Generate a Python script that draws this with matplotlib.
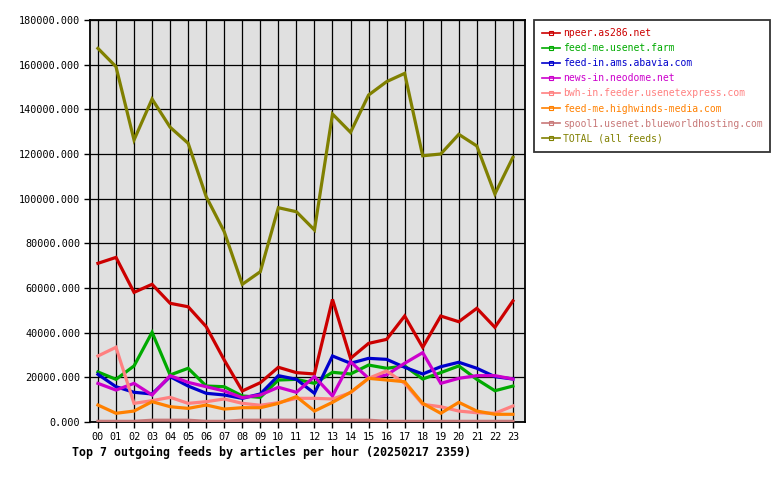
import matplotlib
matplotlib.use("Agg")
import matplotlib.pyplot as plt
from matplotlib.lines import Line2D
from matplotlib.ticker import FuncFormatter, MultipleLocator

hours = ["%02d" % h for h in range(24)]

npeer = [71050, 73700, 58050, 61650, 53150, 51600, 42700, 27750, 13900, 17600, 24500, 22100,
         21500, 54900, 28500, 35200, 37000, 47450, 33450, 47450, 44900, 50900, 42400, 54200]
usenet_farm = [22400, 19100, 25100, 40150, 21050, 24050, 16100, 15800, 11650, 11050, 18800, 19100,
               17300, 22250, 21500, 25500, 24050, 25100, 19250, 22100, 25100, 19100, 14000, 16100]
abavia = [21350, 15800, 13300, 12550, 20300, 16100, 12850, 12100, 10600, 12550, 20750, 19100,
          12850, 29550, 26300, 28500, 28050, 24500, 21500, 24750, 26750, 24050, 20300, 19250]
neodome = [17300, 14300, 17300, 12100, 20750, 17750, 15800, 13900, 10900, 12100, 15550, 13300,
           20300, 11650, 27000, 19550, 21050, 26300, 31050, 17300, 19550, 20750, 20750, 19250]
usenetexpress = [29550, 33450, 8350, 9550, 11050, 8350, 9100, 10300, 8350, 7500, 8650, 10600,
                 10600, 10300, 13100, 19550, 22850, 17300, 7900, 6850, 4900, 4150, 3900, 7150]
highwinds = [7600, 3900, 4900, 9100, 6850, 6100, 7600, 5800, 6400, 6400, 8350, 11350,
             4900, 8800, 13300, 19550, 18800, 18050, 8350, 3900, 8800, 4900, 3450, 3450]
blueworld = [300, 300, 300, 800, 800, 800, 300, 300, 800, 800, 800, 800,
             800, 800, 800, 800, 300, 300, 300, 300, 300, 300, 300, 300]
total = [167300, 159100, 126300, 144600, 132000, 124800, 100900, 85200, 61650, 67300, 95950, 94150,
         86000, 137900, 129700, 146400, 152400, 156100, 119200, 120000, 128800, 123600, 102100, 118500]

names = ["npeer.as286.net", "feed-me.usenet.farm", "feed-in.ams.abavia.com", "news-in.neodome.net",
         "bwh-in.feeder.usenetexpress.com", "feed-me.highwinds-media.com",
         "spool1.usenet.blueworldhosting.com", "TOTAL (all feeds)"]
series = [npeer, usenet_farm, abavia, neodome, usenetexpress, highwinds, blueworld, total]
colors = ["#cc0000", "#00aa00", "#0000cc", "#cc00cc", "#ff8080", "#ff8000", "#c87878", "#808000"]

title = "Top 7 outgoing feeds by articles per hour (20250217 2359)"

mono = ["DejaVu Sans Mono"]
W, H = 780, 480
fig = plt.figure(figsize=(7.8, 4.8), dpi=100)
ax = fig.add_axes([90 / W, (H - 422) / H, 435 / W, 402 / H])
ax.set_facecolor("#e0e0e0")

x = list(range(len(hours)))
for s, c in zip(series, colors):
    ax.plot(x, s, color=c, lw=2.3, solid_joinstyle="miter", zorder=3)

ax.set_xlim(-0.44, 23.67)
ax.set_ylim(0, 180000)
ax.set_xticks(x)
ax.set_xticklabels(hours, family=mono, fontsize=7.3)
ax.yaxis.set_major_locator(MultipleLocator(20000))
ax.yaxis.set_major_formatter(FuncFormatter(lambda v, p: "%.3f" % v))
for lbl in ax.get_yticklabels():
    lbl.set_family(mono)
    lbl.set_fontsize(7.3)
ax.tick_params(axis="both", direction="out", length=4, width=1, color="black", pad=3)
ax.grid(True, color="black", lw=0.9, zorder=1)
ax.set_axisbelow(True)
for sp in ax.spines.values():
    sp.set_linewidth(1.3)
    sp.set_color("black")

fig.text(72 / W, 1 - 452 / H, title, family=mono, fontweight="bold", fontsize=8.4,
         va="center", ha="left")

handles = [Line2D([0], [0], color=c, lw=1.2, marker="s", markersize=2.5,
                  markerfacecolor="none", markeredgecolor=c, markeredgewidth=0.8) for c in colors]
leg = fig.legend(handles, names, loc="upper left",
                 bbox_to_anchor=(534 / W, 1 - 150 / H, 236 / W, 130 / H), mode="expand",
                 prop={"family": mono, "size": 7.0}, frameon=True, fancybox=False,
                 handlelength=1.8, handletextpad=0.3, labelspacing=0.52, borderpad=0.85,
                 borderaxespad=0, numpoints=1)
leg.get_frame().set_edgecolor("black")
leg.get_frame().set_linewidth(1.3)
for t, c in zip(leg.get_texts(), colors):
    t.set_color(c)

fig.savefig("out.png", dpi=100)
